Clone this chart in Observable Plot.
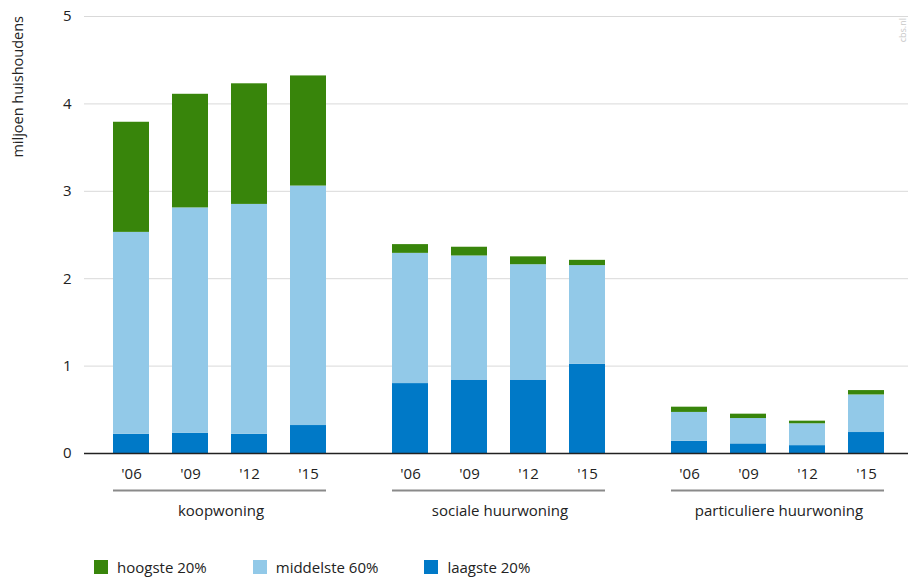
<!DOCTYPE html>
<html>
<head>
<meta charset="utf-8">
<script src="https://cdn.jsdelivr.net/npm/d3@7"></script>
<script src="https://cdn.jsdelivr.net/npm/@observablehq/plot@0.6"></script>
<style>
  html, body { margin: 0; padding: 0; background: #fff; overflow: hidden; }
  #wrap { position: relative; width: 908px; height: 577px; overflow: hidden; font-family: "Open Sans", sans-serif; color: #222; }
  #chart { position: absolute; left: 0; top: 0; width: 922px; }
  #chart svg { max-width: none !important; }
  #ylabel { position: absolute; left: 18px; top: 16px; transform-origin: 0 0; transform: translate(-10px, 0) rotate(-90deg) translate(-100%, 0); font-size: 14.5px; white-space: nowrap; color: #222; }
  #src { position: absolute; left: 896px; top: 18px; transform-origin: 0 0; transform: rotate(-90deg) translate(-100%, 0); font-size: 9px; color: #c8c8c8; white-space: nowrap; }
  #legend { position: absolute; left: 94px; top: 557px; display: flex; font-size: 15px; }
  .item { display: flex; align-items: center; margin-right: 46px; }
  .sw { width: 14px; height: 14px; margin-right: 9px; }
</style>
</head>
<body>
<div id="wrap">
  <div id="chart"></div>
  <div id="ylabel">miljoen huishoudens</div>
  <div id="src">cbs.nl</div>
  <div id="legend"></div>
</div>
<script>
const groups = ["koopwoning", "sociale huurwoning", "particuliere huurwoning"];
const years = ["'06", "'09", "'12", "'15"];
const series = ["hoogste 20%", "middelste 60%", "laagste 20%"];
const colors = ["#38850b", "#92c9e8", "#0079c7"];
// values per group, per year (miljoen huishoudens)
const laagste = [
  [0.22, 0.23, 0.22, 0.32],
  [0.80, 0.84, 0.84, 1.02],
  [0.14, 0.11, 0.09, 0.24]
];
const middelste = [
  [2.31, 2.58, 2.63, 2.74],
  [1.49, 1.42, 1.32, 1.13],
  [0.33, 0.29, 0.25, 0.43]
];
const hoogste = [
  [1.26, 1.30, 1.38, 1.26],
  [0.10, 0.10, 0.09, 0.06],
  [0.06, 0.05, 0.03, 0.05]
];
const yTicks = [0, 1, 2, 3, 4, 5];

const data = [];
groups.forEach((g, gi) => {
  years.forEach((y, yi) => {
    data.push({group: g, year: y, series: "laagste 20%", value: laagste[gi][yi]});
    data.push({group: g, year: y, series: "middelste 60%", value: middelste[gi][yi]});
    data.push({group: g, year: y, series: "hoogste 20%", value: hoogste[gi][yi]});
  });
});
const underline = groups.map(g => ({group: g, first: years[0], last: years[years.length - 1]}));

const plot = Plot.plot({
  width: 922,
  height: 532,
  marginLeft: 83,
  marginRight: 0,
  marginTop: 16,
  marginBottom: 79,
  style: {fontFamily: "Open Sans, sans-serif", fontSize: "15px", color: "#222", background: "transparent", maxWidth: "none"},
  fx: {domain: groups, padding: 0, label: null},
  x: {domain: years, paddingInner: 0.395, paddingOuter: 0.546, align: 0.44, label: null},
  y: {domain: [0, 5], label: null},
  color: {domain: series, range: colors},
  marks: [
    Plot.gridY(yTicks.slice(1), {stroke: "#d9d9d9", strokeOpacity: 1}),
    Plot.axisY(yTicks, {tickSize: 0, tickPadding: 13, label: null, tickFormat: d => d}),
    Plot.barY(data, Plot.stackY({fx: "group", x: "year", y: "value", fill: "series"})),
    Plot.ruleY([0], {stroke: "#222", strokeWidth: 1.5}),
    Plot.axisX({tickSize: 0, tickPadding: 15, label: null}),
    Plot.ruleY(underline, {fx: "group", x1: "first", x2: "last", y: -0.424, stroke: "#8a8a8a", strokeWidth: 2}),
    Plot.axisFx({anchor: "bottom", tickSize: 0, tickPadding: 52, label: null, dx: -3})
  ]
});
document.getElementById("chart").appendChild(plot);

const legend = document.getElementById("legend");
series.forEach((s, i) => {
  const item = document.createElement("div");
  item.className = "item";
  const sw = document.createElement("div");
  sw.className = "sw";
  sw.style.background = colors[i];
  const t = document.createElement("span");
  t.textContent = s;
  item.appendChild(sw);
  item.appendChild(t);
  legend.appendChild(item);
});
</script>
</body>
</html>
